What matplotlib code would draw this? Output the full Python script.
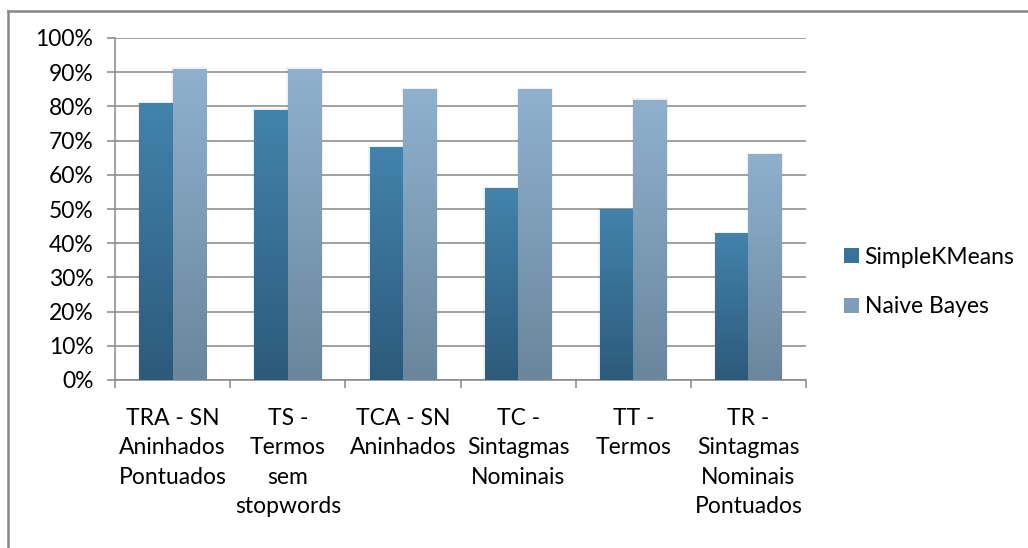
import numpy as np
import matplotlib
matplotlib.use("Agg")
import matplotlib.pyplot as plt
from matplotlib.colors import LinearSegmentedColormap
from matplotlib.lines import Line2D
from matplotlib.patches import Rectangle

plt.rcParams['font.family'] = ['Lato', 'DejaVu Sans']

# dados do grafico
categorias = [
    "TRA - SN\nAninhados\nPontuados",
    "TS -\nTermos\nsem\nstopwords",
    "TCA - SN\nAninhados",
    "TC -\nSintagmas\nNominais",
    "TT -\nTermos",
    "TR -\nSintagmas\nNominais\nPontuados",
]
simple_kmeans = [0.81, 0.79, 0.68, 0.56, 0.50, 0.43]
naive_bayes = [0.91, 0.91, 0.85, 0.85, 0.82, 0.66]
series = ["SimpleKMeans", "Naive Bayes"]
y_ticks = [0, 0.1, 0.2, 0.3, 0.4, 0.5, 0.6, 0.7, 0.8, 0.9, 1.0]
y_labels = ["0%", "10%", "20%", "30%", "40%", "50%", "60%", "70%", "80%", "90%", "100%"]

# cores (base escura -> topo claro)
cores = {
    "SimpleKMeans": ("#2d5a7b", "#4283ac"),
    "Naive Bayes": ("#6a869d", "#8fb1ce"),
}
cinza = "#878787"
fs = 16.5

W, H = 1028, 548
fig = plt.figure(figsize=(W / 100, H / 100), dpi=100)
ax = fig.add_axes([115 / W, 1 - 380 / H, (806 - 115) / W, 342 / H])

x = np.arange(len(categorias))
larg = 0.29
grad = np.linspace(0, 1, 256).reshape(-1, 1)

for i, (nome, vals) in enumerate(zip(series, [simple_kmeans, naive_bayes])):
    pos = x + (i - 0.5) * larg
    bars = ax.bar(pos, vals, width=larg, color="none", edgecolor="none", zorder=3)
    cmap = LinearSegmentedColormap.from_list(nome, list(cores[nome]))
    for b in bars:
        x0, w, h = b.get_x(), b.get_width(), b.get_height()
        # sombra suave
        ax.add_patch(Rectangle((x0 - 0.012, 0), w + 0.024, h + 0.004, facecolor="#000000",
                               alpha=0.06, edgecolor="none", zorder=2))
        im = ax.imshow(grad, extent=[x0, x0 + w, 0, h], origin="lower", aspect="auto",
                       cmap=cmap, zorder=3)
        im.set_clip_path(b)

ax.set_xlim(-0.5, len(categorias) - 0.5)
ax.set_ylim(0, 1)

ax.set_yticks(y_ticks)
ax.set_yticklabels(y_labels, fontsize=fs)
ax.yaxis.grid(True, color=cinza, linewidth=1.1, zorder=0)
ax.set_axisbelow(True)

ax.set_xticks(x)
ax.set_xticklabels(categorias, fontsize=fs, linespacing=1.5)
ax.set_xticks(np.arange(-0.5, len(categorias)), minor=True)
ax.tick_params(axis="x", which="major", length=0, pad=20)
ax.tick_params(axis="x", which="minor", length=5.5, color=cinza, width=1.1)
ax.tick_params(axis="y", length=5.5, color=cinza, width=1.1, pad=10)

for s in ["top", "right"]:
    ax.spines[s].set_visible(False)
for s in ["left", "bottom"]:
    ax.spines[s].set_color(cinza)
    ax.spines[s].set_linewidth(1.1)

# legenda
handles = [Rectangle((0, 0), 1, 1, facecolor=c) for c in ["#3a7399", "#7e9db8"]]
fig.legend(handles, series, loc="center left", bbox_to_anchor=(844 / W, 1 - 282 / H),
           frameon=False, fontsize=fs, handlelength=0.65, handleheight=0.65,
           handletextpad=0.25, labelspacing=1.25, borderpad=0, borderaxespad=0)

# moldura externa
fig.add_artist(Line2D([8 / W, 8 / W], [0, 1 - 11 / H], color=cinza, linewidth=1.8))
fig.add_artist(Line2D([8 / W, 1], [1 - 11 / H, 1 - 11 / H], color=cinza, linewidth=1.8))

fig.savefig("out.png", dpi=100)
